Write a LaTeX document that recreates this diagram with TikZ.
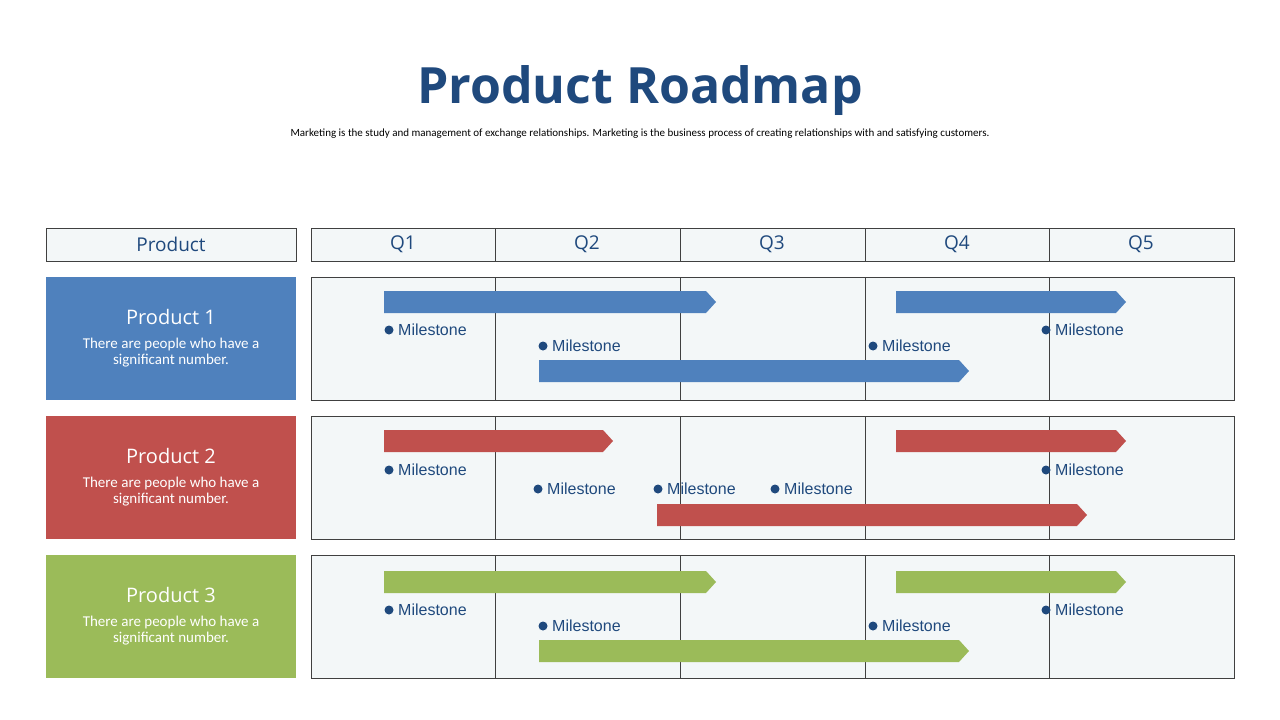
\documentclass[tikz,border=0pt]{standalone}
\usepackage{fontspec}
\setmainfont{Carlito}
\newfontfamily\titlef{Open Sans}
\newfontfamily\msf{Liberation Sans}
\definecolor{pblue}{HTML}{4F81BD}
\definecolor{pred}{HTML}{C0504D}
\definecolor{pgreen}{HTML}{9BBB59}
\definecolor{dblue}{HTML}{1F497D}
\definecolor{cellbg}{HTML}{F3F7F8}
\newcommand\rmarrow[4]{\fill[#1] (#2,#4-11) -- (#3-10,#4-11) -- (#3,#4) -- (#3-10,#4+11) -- (#2,#4+11) -- cycle;}
\newcommand\rmmile[2]{\fill[dblue] (#1,#2) circle (4.5);\node[ms] at (#1+9,#2) {Milestone};}
\begin{document}
\begin{tikzpicture}[x=1pt,y=-1pt,
  cell/.style={draw=black!75,line width=0.9pt,fill=cellbg},
  hdr/.style={text=dblue,font=\titlef\fontsize{19}{22}\selectfont},
  ms/.style={anchor=west,text=dblue,font=\msf\fontsize{16}{18}\selectfont,inner sep=0pt},
  ptitle/.style={text=white,font=\titlef\fontsize{20}{24}\selectfont},
  pdesc/.style={text=white,font=\fontsize{15}{18}\selectfont,align=center}]
\useasboundingbox (0,0) rectangle (1280,720);
\node[text=dblue,font=\titlef\bfseries\fontsize{50}{60}\selectfont] (title) at (640,91) {Product Roadmap};
\node[font=\fontsize{11}{13}\selectfont] (sub) at (640,134) {Marketing is the study and management of exchange relationships. Marketing is the business process of creating relationships with and satisfying customers.};
% header
\draw[cell] (46,228) rectangle (296,261);
\node[hdr] (hp) at (171,244.5) {Product};
\draw[cell] (311,228) rectangle (1234,261);
\foreach \x in {495,680,865,1049} \draw[black!75,line width=0.9pt] (\x,228) -- (\x,261);
\foreach \i/\x in {1/403,2/587,3/772,4/957,5/1141} \node[hdr] (q\i) at (\x,244.5) {Q\i};
% rows
\foreach \r/\c/\n in {0/pblue/1,1/pred/2,2/pgreen/3}{
  \pgfmathsetmacro\yo{277+139*\r}
  \fill[\c] (46,\yo) rectangle (296,\yo+123);
  \node[ptitle] (pt\n) at (171,\yo+40) {Product \n};
  \node[pdesc] (pd\n) at (171,\yo+76) {There are people who have a\\[-2pt]significant number.};
  \draw[cell] (311,\yo) rectangle (1234,\yo+123);
  \foreach \x in {495,680,865,1049} \draw[black!75,line width=0.9pt] (\x,\yo) -- (\x,\yo+123);
}
% row 1
\rmarrow{pblue}{384}{716}{302}
\rmarrow{pblue}{896}{1126}{302}
\rmarrow{pblue}{539}{969}{371}
\rmmile{389}{330}\rmmile{543}{346}\rmmile{873}{346}\rmmile{1046}{330}
% row 2
\rmarrow{pred}{384}{613}{441}
\rmarrow{pred}{896}{1126}{441}
\rmarrow{pred}{657}{1087}{515}
\rmmile{389}{470}\rmmile{538}{489}\rmmile{658}{489}\rmmile{775}{489}\rmmile{1046}{470}
% row 3
\rmarrow{pgreen}{384}{716}{582}
\rmarrow{pgreen}{896}{1126}{582}
\rmarrow{pgreen}{539}{969}{651}
\rmmile{389}{610}\rmmile{543}{626}\rmmile{873}{626}\rmmile{1046}{610}
\end{tikzpicture}
\end{document}
